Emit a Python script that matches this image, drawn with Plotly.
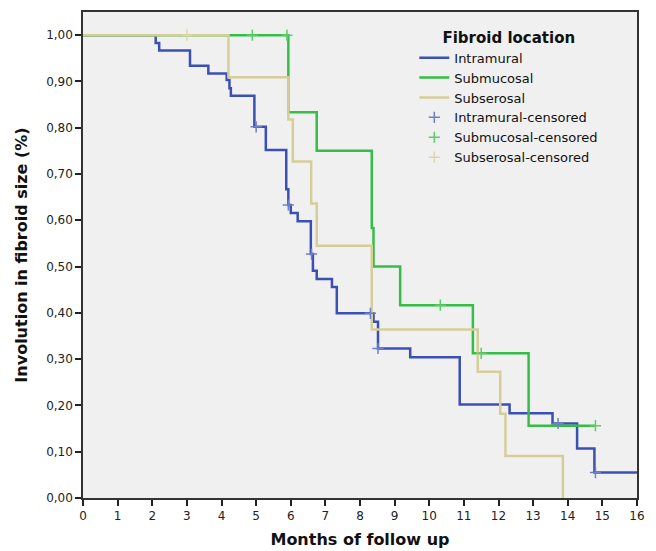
import plotly.graph_objects as go

# ---- data ----
intra_t = [0, 2.10, 2.20, 3.09, 3.62, 4.15, 4.23, 4.27, 4.95, 5.28, 5.87, 5.93, 6.00, 6.20, 6.58, 6.64, 6.75, 7.19, 7.33, 8.39, 8.52, 9.45, 10.88, 12.32, 13.56, 14.27, 14.77, 16.0]
intra_s = [1.0, 0.983, 0.967, 0.934, 0.917, 0.903, 0.885, 0.869, 0.802, 0.752, 0.667, 0.633, 0.616, 0.598, 0.527, 0.491, 0.473, 0.456, 0.399, 0.381, 0.323, 0.304, 0.202, 0.183, 0.161, 0.107, 0.055, 0.055]
intra_cens_t = [5.0, 5.93, 6.60, 8.30, 8.52, 13.72, 14.80]
intra_cens_s = [0.802, 0.633, 0.527, 0.399, 0.323, 0.161, 0.055]

subm_t = [0, 5.93, 6.75, 8.34, 8.39, 9.16, 11.26, 12.87, 14.80]
subm_s = [1.0, 0.8333, 0.75, 0.5833, 0.5, 0.4167, 0.3125, 0.15625, 0.15625]
subm_cens_t = [4.89, 5.89, 10.32, 11.50, 14.80]
subm_cens_s = [1.0, 1.0, 0.4167, 0.3125, 0.15625]

subs_t = [0, 4.20, 5.93, 6.06, 6.59, 6.75, 8.34, 11.40, 12.05, 12.20, 13.86]
subs_s = [1.0, 0.909, 0.818, 0.727, 0.636, 0.545, 0.364, 0.273, 0.182, 0.091, 0.0]
subs_cens_t = [3.0]
subs_cens_s = [1.0]

x_ticks = list(range(0, 17))
y_ticks = [0.0, 0.1, 0.2, 0.3, 0.4, 0.5, 0.6, 0.7, 0.8, 0.9, 1.0]

BLUE = "#3B50B4"
GREEN = "#35BE45"
TAN = "#D6CE98"
BLUE_C = "#6F80C8"
GREEN_C = "#5CCB6A"
TAN_C = "#DDD6AA"

fig = go.Figure()
for name, t, s, c in [("Intramural", intra_t, intra_s, BLUE),
                      ("Submucosal", subm_t, subm_s, GREEN),
                      ("Subserosal", subs_t, subs_s, TAN)]:
    fig.add_trace(go.Scatter(x=t, y=s, mode="lines", name=name,
                             line=dict(color=c, width=2.5, shape="hv")))
for name, t, s, c in [("Intramural-censored", intra_cens_t, intra_cens_s, BLUE_C),
                      ("Submucosal-censored", subm_cens_t, subm_cens_s, GREEN_C),
                      ("Subserosal-censored", subs_cens_t, subs_cens_s, TAN_C)]:
    fig.add_trace(go.Scatter(x=t, y=s, mode="markers", name=name,
                             marker=dict(symbol="cross-thin", size=8,
                                         line=dict(color=c, width=1.5))))

# the page body has an 8px margin, so the figure is sized to fit the window
fig.update_layout(
    width=648, height=543,
    margin=dict(l=75, r=19, t=4, b=53),
    paper_bgcolor="white",
    plot_bgcolor="#F0F0F0",
    separators=",.",
    font=dict(family="DejaVu Sans", size=12, color="#222"),
    showlegend=True,
    legend=dict(
        x=0.598, y=0.977, xanchor="left", yanchor="top",
        bgcolor="rgba(0,0,0,0)",
        font=dict(size=13, color="#111"),
        title=dict(text="<b>Fibroid location</b>", font=dict(size=15, color="#111"), side="top center"),
        tracegroupgap=0, itemwidth=30,
    ),
)
fig.update_xaxes(
    range=[0, 16], tickvals=x_ticks, ticks="outside", ticklen=6, tickwidth=1.5,
    tickcolor="#222", showgrid=False, zeroline=False, automargin=False,
    showline=True, linecolor="#333", linewidth=1.5, mirror=True,
    tickfont=dict(size=12, color="#222"),
    title=dict(text="<b>Months of follow up</b>", font=dict(size=16, color="#111"), standoff=12),
)
fig.update_yaxes(
    range=[0, 1.05], tickvals=y_ticks, tickformat=".2f", ticks="outside", ticklen=6,
    tickwidth=1.5, tickcolor="#222", showgrid=False, zeroline=False, automargin=False,
    showline=True, linecolor="#333", linewidth=1.5, mirror=True,
    tickfont=dict(size=12, color="#222"),
    title=dict(text="<b>Involution in fibroid size (%)</b>", font=dict(size=16, color="#111"), standoff=15),
)

fig.write_html("out.html")
